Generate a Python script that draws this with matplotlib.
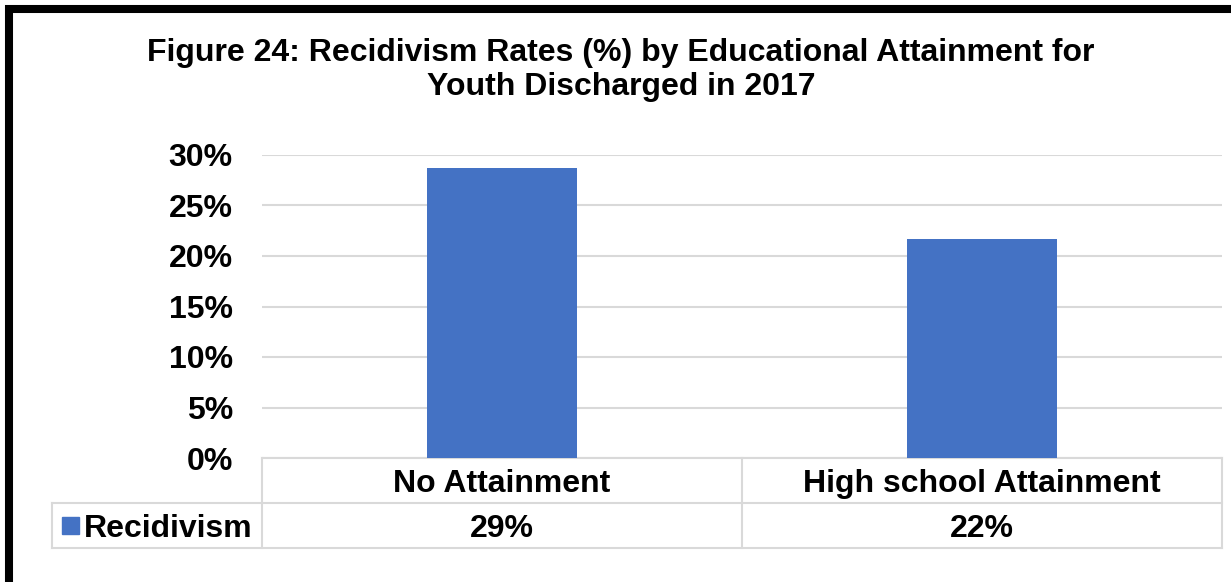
import matplotlib.pyplot as plt
from matplotlib.patches import Rectangle
from matplotlib.ticker import PercentFormatter

# --- Data ---
categories = ["No Attainment", "High school Attainment"]
recidivism = [28.7, 21.7]  # percent
series_name = "Recidivism"
yticks = [0, 5, 10, 15, 20, 25, 30]

BLUE = "#4472C4"
GRID = "#D9D9D9"
FS = 23

plt.rcParams['font.family'] = ['Liberation Sans', 'DejaVu Sans']
plt.rcParams['font.weight'] = 'bold'

fig = plt.figure(figsize=(12.31, 5.82), dpi=100)
AX_W, AX_H = 960, 303  # axes size in px
ax = fig.add_axes([262 / 1231, 1 - 458 / 582, AX_W / 1231, AX_H / 582])

x = range(len(categories))
ax.bar(x, recidivism, width=0.3125, color=BLUE, zorder=3)
ax.set_xlim(-0.5, len(categories) - 0.5)
ax.set_ylim(0, 30)
ax.set_yticks(yticks)
ax.yaxis.set_major_formatter(PercentFormatter(decimals=0))
ax.tick_params(axis='y', length=0, pad=21, labelsize=FS)
ax.set_xticks([])
ax.grid(axis='y', color=GRID, linewidth=1.5, zorder=0)
for s in ax.spines.values():
    s.set_visible(False)

# --- Data table below the chart (axes coords) ---
left = -210 / AX_W
row_h = 45 / AX_H
n = len(categories)
kw = dict(transform=ax.transAxes, color=GRID, linewidth=1.5, clip_on=False)
ax.plot([0, 1], [0, 0], **kw)
ax.plot([left, 1], [-row_h, -row_h], **kw)
ax.plot([left, 1], [-2 * row_h, -2 * row_h], **kw)
ax.plot([left, left], [-row_h, -2 * row_h], **kw)
for i in range(n + 1):
    ax.plot([i / n, i / n], [0, -2 * row_h], **kw)

for i, (cat, v) in enumerate(zip(categories, recidivism)):
    xc = (i + 0.5) / n
    ax.text(xc, -0.5 * row_h, cat, transform=ax.transAxes, ha='center',
            va='center_baseline', fontsize=FS, fontweight='bold')
    ax.text(xc, -1.5 * row_h, f"{v:.0f}%", transform=ax.transAxes, ha='center',
            va='center_baseline', fontsize=FS, fontweight='bold')

ax.text(-9 / AX_W, -1.5 * row_h, series_name, transform=ax.transAxes, ha='right',
        va='center_baseline', fontsize=FS, fontweight='bold')
# legend key
ax.add_patch(Rectangle((-200 / AX_W, -76 / AX_H), 17 / AX_W, 17 / AX_H,
                       transform=ax.transAxes, color=BLUE, clip_on=False))

# --- Title ---
fig.text(621 / 1231, 1 - 70 / 582,
         "Figure 24: Recidivism Rates (%) by Educational Attainment for\nYouth Discharged in 2017",
         ha='center', va='center', fontsize=FS, fontweight='bold', linespacing=1.18)

# --- Border ---
fig.patches.append(Rectangle((9 / 1231, -0.008), 1.0 - 9 / 1231 + 0.002, 0.9845 + 0.008,
                             transform=fig.transFigure, fill=False,
                             edgecolor='black', linewidth=5.8))

fig.savefig("out.png", dpi=100)
